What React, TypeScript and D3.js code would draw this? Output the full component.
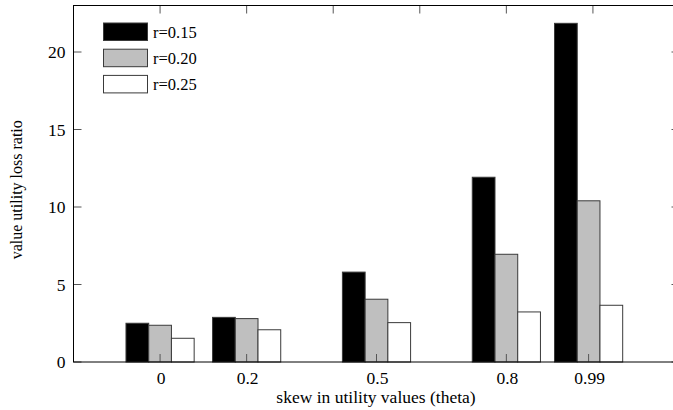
import * as d3 from "d3";
import React from "react";

// skew positions (theta) and their labels
const thetas = [0, 0.2, 0.5, 0.8, 0.99];
const thetaLabels = ["0", "0.2", "0.5", "0.8", "0.99"];

const seriesNames = ["r=0.15", "r=0.20", "r=0.25"];
const r015 = [2.5, 2.88, 5.8, 11.92, 21.85];
const r020 = [2.37, 2.8, 4.05, 6.95, 10.4];
const r025 = [1.53, 2.08, 2.54, 3.23, 3.66];

const yTicks = [0, 5, 10, 15, 20];
const topTicks = [0, 0.2, 0.4, 0.6, 0.8, 1.0];

const fills = ["#000000", "#bfbfbf", "#ffffff"];

export default function App() {
  const ref = React.useRef<SVGSVGElement>(null);

  React.useEffect(() => {
    if (!ref.current) return;
    const svg = d3.select(ref.current);
    svg.selectAll("*").remove();

    const left = 73.5;
    const right = 679.5;
    const top = 5.5;
    const bottom = 362;

    const x = d3.scaleLinear().domain([-0.2, 1.2]).range([left, right]);
    const y = d3.scaleLinear().domain([0, 23]).range([bottom, top]);
    const bw = x(0.0525) - x(0);

    const font = "'Liberation Serif', 'Times New Roman', serif";
    const series = [r015, r020, r025];

    // bars
    series.forEach((vals, si) => {
      svg
        .append("g")
        .selectAll("rect")
        .data(vals)
        .enter()
        .append("rect")
        .attr("x", (d, i) => x(thetas[i]) + (si - 1.5) * bw)
        .attr("y", (d) => y(d))
        .attr("width", bw)
        .attr("height", (d) => bottom - y(d))
        .attr("fill", fills[si])
        .attr("stroke", "#3a3a3a")
        .attr("stroke-width", 1);
    });

    const tickColor = "#555";
    const tl = 8;

    // bottom ticks + labels
    thetas.forEach((t, i) => {
      svg
        .append("line")
        .attr("x1", x(t))
        .attr("x2", x(t))
        .attr("y1", bottom)
        .attr("y2", bottom - tl)
        .attr("stroke", tickColor);
      svg
        .append("text")
        .attr("x", x(t) + 1)
        .attr("y", bottom + 22)
        .attr("text-anchor", "middle")
        .attr("font-family", font)
        .attr("font-size", 17.5)
        .text(thetaLabels[i]);
    });

    // top mirror ticks
    topTicks.forEach((t) => {
      svg
        .append("line")
        .attr("x1", x(t))
        .attr("x2", x(t))
        .attr("y1", top)
        .attr("y2", top + tl)
        .attr("stroke", tickColor);
    });

    // y ticks both sides
    yTicks.forEach((v) => {
      svg
        .append("line")
        .attr("x1", left)
        .attr("x2", left + tl)
        .attr("y1", y(v))
        .attr("y2", y(v))
        .attr("stroke", tickColor);
      svg
        .append("line")
        .attr("x1", right)
        .attr("x2", right - tl)
        .attr("y1", y(v))
        .attr("y2", y(v))
        .attr("stroke", tickColor);
      svg
        .append("text")
        .attr("x", left - 8)
        .attr("y", y(v))
        .attr("dy", "0.35em")
        .attr("text-anchor", "end")
        .attr("font-family", font)
        .attr("font-size", 17.5)
        .text(v);
    });

    // frame
    svg
      .append("rect")
      .attr("x", left)
      .attr("y", top)
      .attr("width", right - left)
      .attr("height", bottom - top)
      .attr("fill", "none")
      .attr("stroke", "#000")
      .attr("stroke-width", 1);

    // legend
    seriesNames.forEach((name, i) => {
      const ly = 23 + i * 26.2;
      svg
        .append("rect")
        .attr("x", 103.5)
        .attr("y", ly)
        .attr("width", 44)
        .attr("height", 17.5)
        .attr("fill", fills[i])
        .attr("stroke", "#3a3a3a");
      svg
        .append("text")
        .attr("x", 153)
        .attr("y", ly + 9)
        .attr("dy", "0.35em")
        .attr("font-family", font)
        .attr("font-size", 16.5)
        .text(name);
    });

    // axis titles
    svg
      .append("text")
      .attr("x", 376)
      .attr("y", 403)
      .attr("text-anchor", "middle")
      .attr("font-family", font)
      .attr("font-size", 17.5)
      .text("skew in utility values (theta)");

    svg
      .append("text")
      .attr("transform", `translate(22,${(top + bottom) / 2 + 6}) rotate(-90)`)
      .attr("text-anchor", "middle")
      .attr("font-family", font)
      .attr("font-size", 16)
      .text("value utility loss ratio");
  }, []);

  return (
    <svg
      ref={ref}
      width={673}
      height={410}
      style={{ position: "absolute", left: 0, top: 0, background: "#fff" }}
    />
  );
}
